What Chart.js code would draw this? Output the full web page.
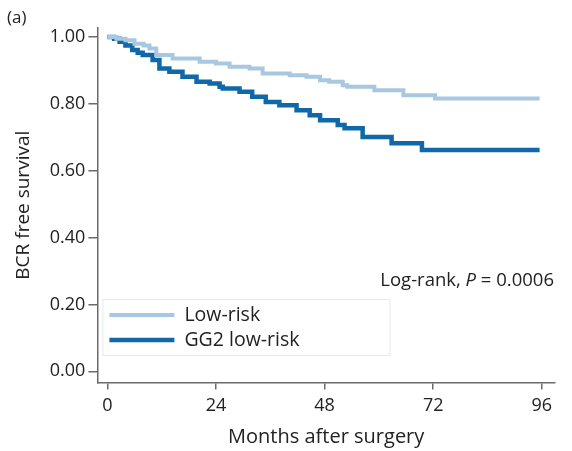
<!DOCTYPE html>
<html>
<head>
<meta charset="utf-8">
<script src="https://cdn.jsdelivr.net/npm/chart.js@4/dist/chart.umd.min.js"></script>
<style>
  html, body { margin: 0; padding: 0; background: #fff; }
  #wrap { position: relative; width: 572px; height: 451px; }
</style>
</head>
<body>
<div id="wrap"><canvas id="canvas" width="572" height="451"></canvas></div>
<script>
// Kaplan-Meier steps (months, survival after the event)
var lowRiskMonths = [0, 2, 4, 6, 8, 9.3, 10.8, 14.4, 20.4, 24, 27, 31.4, 34.3, 40.3, 44, 47, 49, 52, 53, 59, 65.4, 72.4, 95.5];
var lowRiskSurv = [1.0, 0.995, 0.99, 0.98, 0.975, 0.966, 0.946, 0.936, 0.926, 0.921, 0.911, 0.906, 0.891, 0.886, 0.881, 0.871, 0.866, 0.856, 0.851, 0.841, 0.826, 0.816, 0.816];

var gg2Months = [0, 1.5, 2.7, 4, 5.5, 6.7, 7.8, 10, 11.5, 13.7, 16.6, 19.7, 22.6, 24.8, 25.5, 29.2, 32, 35, 38, 41.8, 44.7, 47, 50.9, 52.4, 56.4, 62.8, 69.5, 95.5];
var gg2Surv = [1.0, 0.995, 0.986, 0.975, 0.961, 0.953, 0.946, 0.931, 0.906, 0.896, 0.881, 0.866, 0.861, 0.851, 0.846, 0.836, 0.821, 0.806, 0.796, 0.781, 0.766, 0.751, 0.737, 0.727, 0.701, 0.682, 0.662, 0.662];

var xTicks = [0, 24, 48, 72, 96];
var yTicks = [0, 0.2, 0.4, 0.6, 0.8, 1.0];

var seriesLabels = ['Low-risk', 'GG2 low-risk'];
var lightBlue = 'rgb(168,199,224)';
var darkBlue = 'rgb(16,104,168)';
var axisGrey = '#6b6b6b';
var FONT = "'Open Sans', 'Noto Sans', sans-serif";

function toPoints(xs, ys) {
    return xs.map(function(x, i) { return {x: x, y: ys[i]}; });
}

// legend box + log-rank note + panel tag
var annotations = {
    id: 'annotations',
    afterDraw: function(chart) {
        var ctx = chart.ctx;
        var area = chart.chartArea;
        ctx.save();
        ctx.fillStyle = '#222';
        ctx.font = '17px ' + FONT;
        ctx.textBaseline = 'middle';
        ctx.textAlign = 'left';
        ctx.fillText('(a)', 7, 18);

        // log-rank text, right aligned
        var y = 281;
        var right = area.right - 1;
        ctx.font = '18.5px ' + FONT;
        var p2 = ' = 0.0006';
        var w2 = ctx.measureText(p2).width;
        ctx.font = 'italic 18.5px ' + FONT;
        var wp = ctx.measureText('P').width;
        ctx.font = '18.5px ' + FONT;
        var p0 = 'Log-rank, ';
        var w0 = ctx.measureText(p0).width;
        var x0 = right - w2 - wp - w0;
        ctx.fillText(p0, x0, y);
        ctx.font = 'italic 18.5px ' + FONT;
        ctx.fillText('P', x0 + w0, y);
        ctx.font = '18.5px ' + FONT;
        ctx.fillText(p2, x0 + w0 + wp, y);

        // legend
        var bx = area.left + 5, by = 299, bw = 287, bh = 56;
        ctx.fillStyle = '#fff';
        ctx.fillRect(bx, by, bw, bh);
        ctx.strokeStyle = '#e3ebf0';
        ctx.lineWidth = 1;
        ctx.strokeRect(bx + 0.5, by + 0.5, bw, bh);
        chart.data.datasets.forEach(function(ds, i) {
            var ly = by + 16 + i * 25;
            ctx.strokeStyle = ds.borderColor;
            ctx.lineWidth = ds.borderWidth;
            ctx.beginPath();
            ctx.moveTo(bx + 7, ly);
            ctx.lineTo(bx + 72, ly);
            ctx.stroke();
            ctx.fillStyle = '#222';
            ctx.font = '19.5px ' + FONT;
            ctx.fillText(ds.label, bx + 82, ly);
        });
        ctx.restore();
    }
};

window.onload = function() {
    var ctx = document.getElementById('canvas').getContext('2d');
    new Chart(ctx, {
        type: 'line',
        data: {
            datasets: [{
                label: seriesLabels[0],
                data: toPoints(lowRiskMonths, lowRiskSurv),
                borderColor: lightBlue,
                borderWidth: 4,
                stepped: 'before',
                pointRadius: 0,
                fill: false
            }, {
                label: seriesLabels[1],
                data: toPoints(gg2Months, gg2Surv),
                borderColor: darkBlue,
                borderWidth: 4.5,
                stepped: 'before',
                pointRadius: 0,
                fill: false
            }]
        },
        plugins: [annotations],
        options: {
            responsive: false,
            animation: false,
            layout: { padding: { left: 12, right: 17, top: 28, bottom: 2 } },
            plugins: {
                legend: { display: false },
                tooltip: { enabled: false }
            },
            scales: {
                x: {
                    type: 'linear',
                    min: -2.2,
                    max: 98.9,
                    afterBuildTicks: function(axis) {
                        axis.ticks = xTicks.map(function(v) { return {value: v}; });
                    },
                    ticks: {
                        color: '#222',
                        font: { family: FONT, size: 18 },
                        padding: 6,
                        maxRotation: 0
                    },
                    grid: {
                        drawOnChartArea: false,
                        drawTicks: true,
                        tickLength: 7,
                        color: axisGrey,
                        lineWidth: 1.5
                    },
                    border: { color: axisGrey, width: 1.5 },
                    title: {
                        display: true,
                        text: 'Months after surgery',
                        color: '#222',
                        font: { family: FONT, size: 20 },
                        padding: { top: 2, bottom: 0 }
                    }
                },
                y: {
                    min: -0.033,
                    max: 1.027,
                    afterBuildTicks: function(axis) {
                        axis.ticks = yTicks.map(function(v) { return {value: v}; });
                    },
                    ticks: {
                        color: '#222',
                        font: { family: FONT, size: 18 },
                        padding: 3,
                        callback: function(v) { return v.toFixed(2); }
                    },
                    grid: {
                        drawOnChartArea: false,
                        drawTicks: true,
                        tickLength: 9,
                        color: axisGrey,
                        lineWidth: 1.5
                    },
                    border: { color: axisGrey, width: 1.5 },
                    title: {
                        display: true,
                        text: 'BCR free survival',
                        color: '#222',
                        font: { family: FONT, size: 19 },
                        padding: { top: 0, bottom: 12 }
                    }
                }
            }
        }
    });
};
</script>
</body>
</html>
